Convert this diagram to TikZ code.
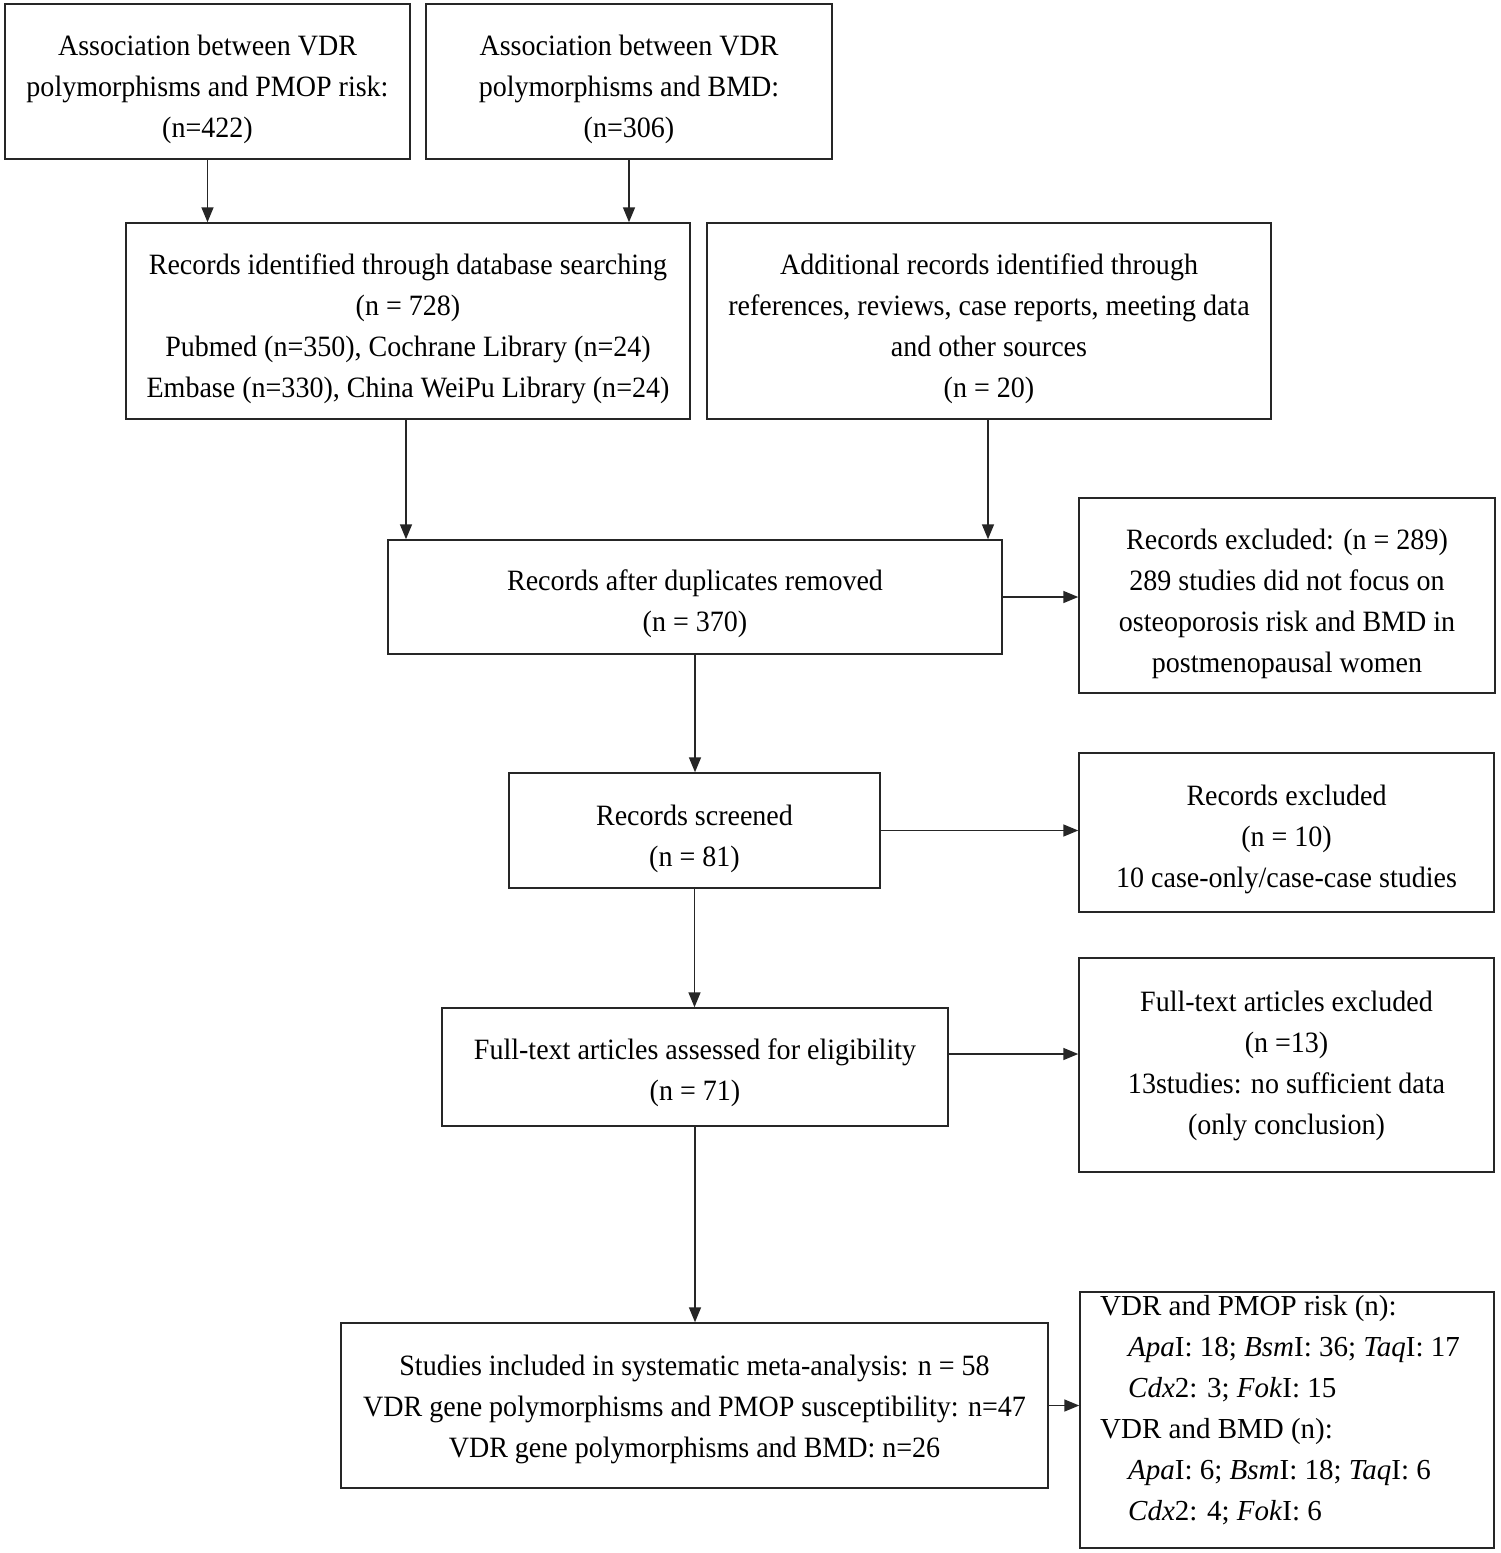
\documentclass[tikz,border=0pt]{standalone}
\usepackage{fontspec}
\setmainfont{Liberation Serif}
\newfontfamily\condfont[FakeStretch=0.95]{Liberation Serif}
\usetikzlibrary{arrows.meta}
\begin{document}
\begin{tikzpicture}[x=1pt,y=-1pt,
  box/.style={draw=black!85, line width=1.5pt, inner sep=0pt},
  txt/.style={inner sep=0pt, align=center, font={\condfont\fontsize{29.5}{41}\selectfont}},
  arr/.style={line width=1.6pt, draw=black!85, -{Triangle[length=15pt,width=12pt]}}]
\useasboundingbox[fill=white] (0,0) rectangle (1500,1553);
\node[box, minimum width=405pt, minimum height=155pt] (b1) at (207.5,81.5) {};
\node[txt] (b1t) at ([yshift=-8pt]b1.center)
  {Association between VDR\\polymorphisms and PMOP risk:\\(n=422)};
\node[box, minimum width=406pt, minimum height=155pt] (b2) at (629,81.5) {};
\node[txt] (b2t) at ([yshift=-8pt]b2.center)
  {Association between VDR\\polymorphisms and BMD:\\(n=306)};
\node[box, minimum width=564pt, minimum height=196pt] (b3) at (408,321) {};
\node[txt] (b3t) at ([yshift=-8pt]b3.center)
  {Records identified through database searching\\(n = 728)\\Pubmed (n=350), Cochrane Library (n=24)\\Embase (n=330), China WeiPu Library (n=24)};
\node[box, minimum width=564pt, minimum height=196pt] (b4) at (989,321) {};
\node[txt] (b4t) at ([yshift=-8pt]b4.center)
  {Additional records identified through\\references, reviews, case reports, meeting data\\and other sources\\(n = 20)};
\node[box, minimum width=614pt, minimum height=114pt] (b5) at (695,597) {};
\node[txt] (b5t) at ([yshift=-7pt]b5.center)
  {Records after duplicates removed\\(n = 370)};
\node[box, minimum width=416pt, minimum height=195pt] (b6) at (1287,595.5) {};
\node[txt] (b6t) at ([yshift=-8pt]b6.center)
  {Records excluded: (n = 289)\\289 studies did not focus on\\osteoporosis risk and BMD in\\postmenopausal women};
\node[box, minimum width=371pt, minimum height=115pt] (b7) at (694.5,830.5) {};
\node[txt] (b7t) at ([yshift=-8pt]b7.center)
  {Records screened\\(n = 81)};
\node[box, minimum width=415pt, minimum height=159pt] (b8) at (1286.5,832.5) {};
\node[txt] (b8t) at ([yshift=-7pt]b8.center)
  {Records excluded\\(n = 10)\\10 case-only/case-case studies};
\node[box, minimum width=506pt, minimum height=118pt] (b9) at (695,1067) {};
\node[txt] (b9t) at ([yshift=-6pt]b9.center)
  {Full-text articles assessed for eligibility\\(n = 71)};
\node[box, minimum width=415pt, minimum height=214pt] (b10) at (1286.5,1065) {};
\node[txt] (b10t) at ([yshift=-1pt]b10.center)
  {Full-text articles excluded\\(n =13)\\13studies: no sufficient data\\(only conclusion)};
\node[box, minimum width=707pt, minimum height=165pt] (b11) at (694.5,1405.5) {};
\node[txt] (b11t) at ([yshift=-4pt]b11.center)
  {Studies included in systematic meta-analysis: n = 58\\VDR gene polymorphisms and PMOP susceptibility: n=47\\VDR gene polymorphisms and BMD: n=26};
\node[box, minimum width=414pt, minimum height=256pt] (b12) at (1287,1420) {};
\node[anchor=west, inner sep=0pt, align=left, font={\fontsize{29}{41}\selectfont}] (b12t) at (1100,1410)
  {VDR and PMOP risk (n):\\
   \hspace*{28pt}\textit{Apa}I: 18; \textit{Bsm}I: 36; \textit{Taq}I: 17\\
   \hspace*{28pt}\textit{Cdx}2: 3; \textit{Fok}I: 15\\
   VDR and BMD (n):\\
   \hspace*{28pt}\textit{Apa}I: 6; \textit{Bsm}I: 18; \textit{Taq}I: 6\\
   \hspace*{28pt}\textit{Cdx}2: 4; \textit{Fok}I: 6};
% connectors
\draw[arr] (b1.south) -- (b1.south |- b3.north);
\draw[arr] (b2.south) -- (b2.south |- b3.north);
\draw[arr] ([xshift=-2pt]b3.south) -- ([xshift=-2pt]b3.south |- b5.north);
\draw[arr] ([xshift=-1pt]b4.south) -- ([xshift=-1pt]b4.south |- b5.north);
\draw[arr] (b5.east) -- (b5.east -| b6.west);
\draw[arr] (b5.south) -- (b5.south |- b7.north);
\draw[arr] (b7.east) -- (b7.east -| b8.west);
\draw[arr] (b7.south) -- (b7.south |- b9.north);
\draw[arr] ([yshift=13pt]b9.east) -- ([yshift=13pt]b9.east -| b10.west);
\draw[arr] (b9.south) -- (b9.south |- b11.north);
\draw[arr] (b11.east) -- (b11.east -| b12.west);
\end{tikzpicture}
\end{document}
